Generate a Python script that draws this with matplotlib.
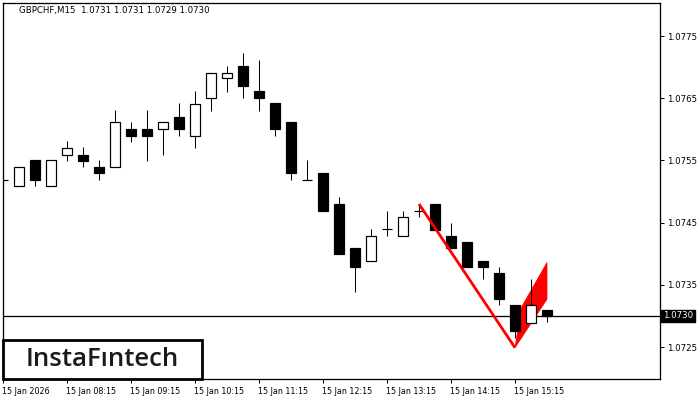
import matplotlib
matplotlib.use("Agg")
import matplotlib.pyplot as plt
from matplotlib.patches import Rectangle, Polygon
import matplotlib.transforms as mtransforms

# ---- data ----
opens  = [1.07519, 1.07509, 1.07550, 1.07509, 1.07559, 1.07559, 1.07540, 1.07539, 1.07601, 1.07601,
          1.07601, 1.07620, 1.07589, 1.07651, 1.07682, 1.07702, 1.07661, 1.07642, 1.07611, 1.07519,
          1.07530, 1.07480, 1.07409, 1.07388, 1.07440, 1.07429, 1.07469, 1.07480, 1.07429, 1.07419,
          1.07388, 1.07369, 1.07317, 1.07288, 1.07310]
highs  = [1.07531, 1.07540, 1.07550, 1.07550, 1.07581, 1.07571, 1.07550, 1.07631, 1.07611, 1.07631,
          1.07611, 1.07642, 1.07661, 1.07691, 1.07702, 1.07723, 1.07711, 1.07642, 1.07611, 1.07550,
          1.07530, 1.07491, 1.07409, 1.07440, 1.07469, 1.07469, 1.07480, 1.07480, 1.07450, 1.07419,
          1.07388, 1.07379, 1.07317, 1.07360, 1.07310]
lows   = [1.07508, 1.07509, 1.07509, 1.07509, 1.07549, 1.07539, 1.07518, 1.07539, 1.07580, 1.07549,
          1.07559, 1.07589, 1.07570, 1.07630, 1.07660, 1.07650, 1.07630, 1.07589, 1.07518, 1.07519,
          1.07468, 1.07399, 1.07338, 1.07388, 1.07428, 1.07429, 1.07459, 1.07439, 1.07409, 1.07378,
          1.07359, 1.07317, 1.07265, 1.07288, 1.07290]
closes = [1.07519, 1.07540, 1.07518, 1.07550, 1.07570, 1.07549, 1.07530, 1.07611, 1.07589, 1.07589,
          1.07611, 1.07600, 1.07641, 1.07691, 1.07691, 1.07670, 1.07651, 1.07600, 1.07530, 1.07519,
          1.07468, 1.07399, 1.07378, 1.07429, 1.07440, 1.07459, 1.07469, 1.07439, 1.07409, 1.07378,
          1.07378, 1.07328, 1.07276, 1.07317, 1.07300]

x_tick_idx = [0, 4, 8, 12, 16, 20, 24, 28, 32]
x_tick_labels = ["15 Jan 2026", "15 Jan 08:15", "15 Jan 09:15", "15 Jan 10:15", "15 Jan 11:15",
                 "15 Jan 12:15", "15 Jan 13:15", "15 Jan 14:15", "15 Jan 15:15"]
y_ticks = [1.0725, 1.0735, 1.0745, 1.0755, 1.0765, 1.0775]
y_tick_labels = ["1.0725", "1.0735", "1.0745", "1.0755", "1.0765", "1.0775"]

current_price = 1.0730
current_label = "1.0730"
title_text = "GBPCHF,M15  1.0731 1.0731 1.0729 1.0730"

pole_x = [26, 32]
pole_y = [1.07480, 1.07249]
flag_x = [32, 32.4, 34, 34]
flag_y = [1.07249, 1.07314, 1.07386, 1.07327]

logo_text = "InstaF\u0131ntech"

# ---- figure ----
W, H = 700, 400
fig = plt.figure(figsize=(7, 4), dpi=100)
L, R, T, B = 3, 660, 3, 379
ax = fig.add_axes([L / W, 1 - B / H, (R - L) / W, (B - T) / H])
ax.set_xlim(0, (R - L) / 16)
ax.set_ylim(1.0775 - (B - 36) / 62222, 1.0775 + (36 - T) / 62222)

px = 0.72  # 1 pixel in points
bw = 0.66
for i, (o, h, l, c) in enumerate(zip(opens, highs, lows, closes)):
    top, bot = max(o, c), min(o, c)
    ax.vlines(i, l, h, color="black", lw=px, zorder=3)
    fc = "white" if c > o else "black"
    ax.add_patch(Rectangle((i - bw / 2, bot), bw, top - bot, facecolor=fc,
                           edgecolor="black", lw=px * 1.2, zorder=3))

ax.axhline(current_price, color="black", lw=px * 1.3, zorder=1)

ax.add_patch(Polygon(list(zip(flag_x, flag_y)), closed=True, facecolor="#ff0000",
                     edgecolor="#ff0000", lw=0.5, zorder=2))
ax.plot(pole_x, pole_y, color="#ff0000", lw=2.0, zorder=4, solid_capstyle="butt")

for s in ax.spines.values():
    s.set_color("black")
    s.set_linewidth(px * 1.3)

ax.yaxis.tick_right()
ax.set_yticks(y_ticks)
ax.set_yticklabels(y_tick_labels, fontsize=6.2, family="DejaVu Sans")
ax.tick_params(axis="y", direction="out", length=3, width=px, pad=2, colors="black")
ax.set_xticks(x_tick_idx)
ax.set_xticklabels(x_tick_labels, fontsize=5.8, family="DejaVu Sans")
ax.tick_params(axis="x", direction="out", length=3, width=px, pad=3, colors="black")
offset = mtransforms.ScaledTranslation(-1 / 100, 0, fig.dpi_scale_trans)
for lbl in ax.get_xticklabels():
    lbl.set_horizontalalignment("left")
    lbl.set_transform(lbl.get_transform() + offset)

fig.text(19 / W, 1 - 10 / H, title_text, fontsize=6.2, family="DejaVu Sans",
         va="center", ha="left", color="black")

# current price label
trans = mtransforms.blended_transform_factory(fig.transFigure, ax.transData)
fig.text(663 / W, current_price, current_label, transform=trans, fontsize=6.2,
         family="DejaVu Sans", color="white", va="center", ha="left",
         bbox=dict(boxstyle="square,pad=0.2", facecolor="black", edgecolor="black"))

# logo
fig.patches.append(Rectangle((3 / W, 1 - 379 / H), (202 - 3) / W, (379 - 340) / H,
                             transform=fig.transFigure, facecolor="white",
                             edgecolor="black", lw=2.0, zorder=10))
fig.text(102 / W, 1 - 360 / H, logo_text, fontsize=18.5, family="Open Sans",
         weight="semibold", va="center", ha="center", color="#1a1a1a", zorder=11)

fig.savefig("out.png", dpi=100)
